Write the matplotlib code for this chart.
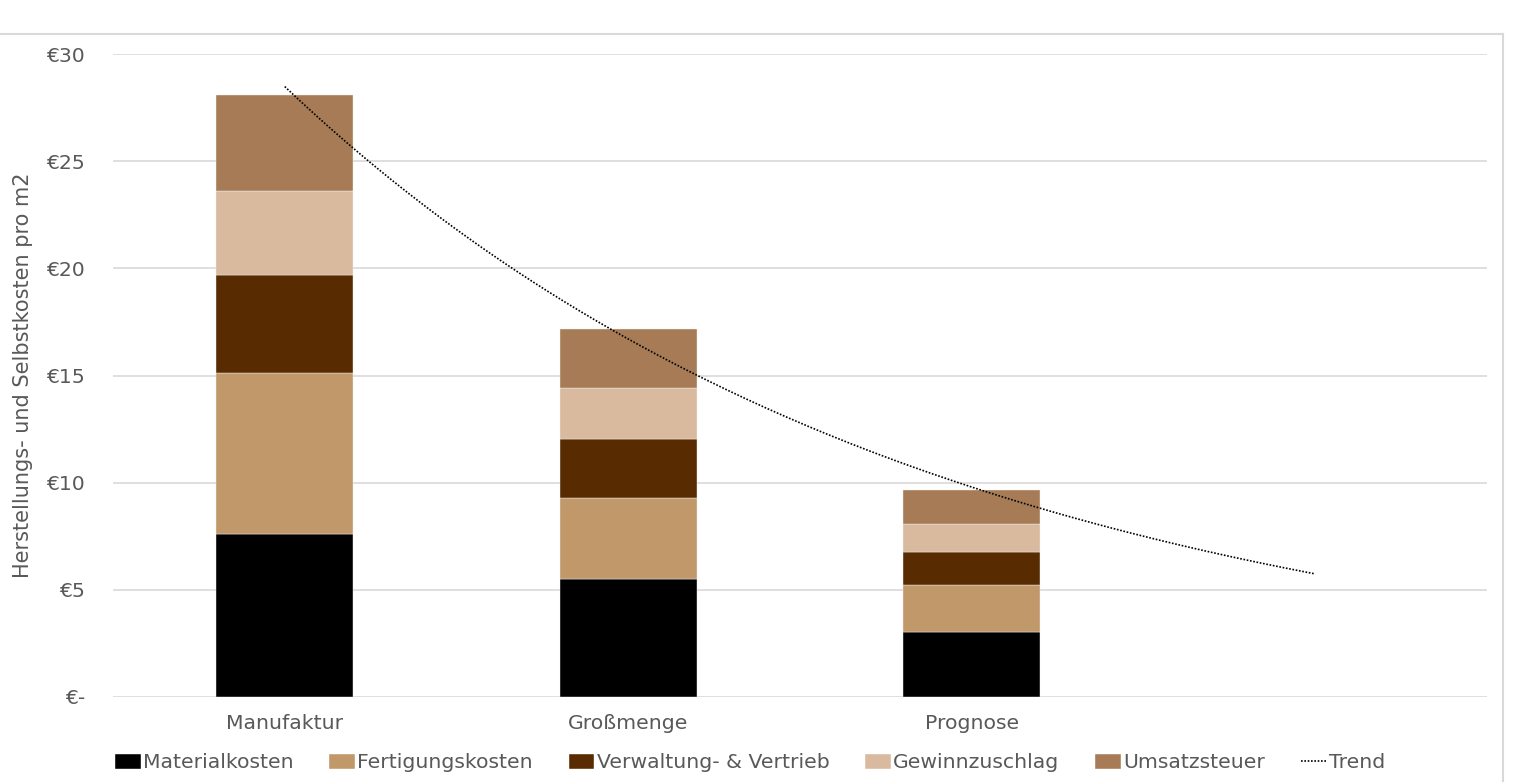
import numpy as np
import matplotlib.pyplot as plt
from matplotlib.lines import Line2D
from matplotlib.patches import Patch

categories = ['Manufaktur', 'Großmenge', 'Prognose', '']
series = ['Materialkosten', 'Fertigungskosten', 'Verwaltung- & Vertrieb', 'Gewinnzuschlag', 'Umsatzsteuer']
materialkosten = [7.60, 5.51, 3.03]
fertigungskosten = [7.52, 3.78, 2.20]
verwaltung = [4.57, 2.75, 1.54]
gewinnzuschlag = [3.92, 2.38, 1.30]
umsatzsteuer = [4.48, 2.75, 1.59]
colors = ['#000000', '#C0986A', '#582C00', '#DABA9E', '#A67B55']
yticks = [0, 5, 10, 15, 20, 25, 30]
ytick_labels = ['€-', '€5', '€10', '€15', '€20', '€25', '€30']

text_col = '#595959'
grid_col = '#D9D9D9'
fs = 14.7
plt.rcParams['font.family'] = ['DejaVu Sans']

fig = plt.figure(figsize=(15.26, 7.82), dpi=100)
ax = fig.add_axes([113 / 1526, 85 / 782, 1374 / 1526, 643 / 782])

values = [materialkosten, fertigungskosten, verwaltung, gewinnzuschlag, umsatzsteuer]
x = np.arange(len(materialkosten))
bottom = np.zeros(len(x))
for name, vals, c in zip(series, values, colors):
    ax.bar(x, vals, width=0.4, bottom=bottom, color=c, edgecolor='#f2f2f2', linewidth=0.3, label=name, zorder=3)
    bottom += np.array(vals)

# exponential trend on totals (like Excel), forecast one period forward
totals = bottom
px = np.arange(1, len(totals) + 1)
b, a = np.polyfit(px, np.log(totals), 1)
tx = np.linspace(1, len(totals) + 1, 200)
ax.plot(tx - 1, np.exp(a + b * tx), color='black', linestyle=(0, (1, 1)), linewidth=1.2, zorder=4)

ax.set_xlim(-0.5, 3.5)
ax.set_ylim(0, 30)
ax.set_yticks(yticks)
ax.set_yticklabels(ytick_labels)
ax.set_xticks(range(len(categories)))
ax.set_xticklabels(categories)
ax.tick_params(length=0, labelsize=fs, colors=text_col, pad=12)
ax.tick_params(axis='y', pad=20)
ax.grid(axis='y', color=grid_col, linewidth=1.2, zorder=0)
for s in ax.spines.values():
    s.set_visible(False)
ax.set_ylabel('Herstellungs- und Selbstkosten pro m2', fontsize=15, color=text_col)
ax.yaxis.set_label_coords(-80 / 1374, 0.5)

handles = [Patch(facecolor=c, edgecolor='white', linewidth=0.3) for c in colors]
handles.append(Line2D([0], [0], color='black', linestyle=(0, (1, 1)), linewidth=1.2))
leg = fig.legend(handles, series + ['Trend'], loc='center', bbox_to_anchor=(750 / 1526, 1 - 763 / 782),
                 ncol=6, frameon=False, fontsize=fs, handlelength=1.25, handleheight=0.7,
                 handletextpad=0.12, columnspacing=1.75, labelcolor=text_col)

# chart frame
fig.add_artist(Line2D([0, 1503 / 1526], [1 - 34 / 782] * 2, color=grid_col, linewidth=1.5))
fig.add_artist(Line2D([1503 / 1526] * 2, [0, 1 - 34 / 782], color=grid_col, linewidth=1.5))

fig.savefig('out.png', dpi=100, facecolor='white')
